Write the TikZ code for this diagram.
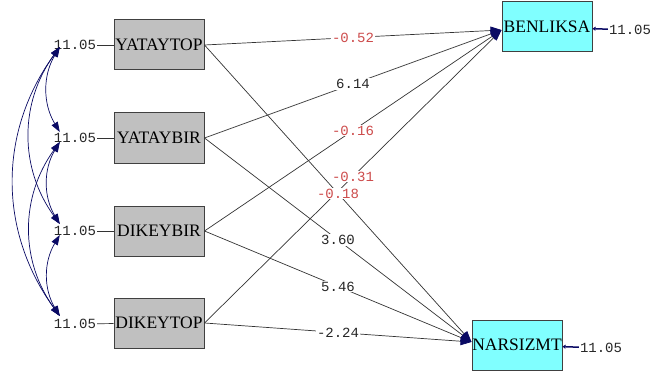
\documentclass[tikz,border=0pt]{standalone}
\usepackage{fontspec}
\setmainfont{Liberation Serif}
\newfontfamily\monofont{Liberation Mono}
\usetikzlibrary{arrows.meta}
\definecolor{boxgray}{RGB}{192,192,192}
\definecolor{boxcyan}{RGB}{128,255,255}
\definecolor{arrnavy}{RGB}{10,10,100}
\definecolor{valred}{RGB}{205,75,75}
\begin{document}
\begin{tikzpicture}
		[x=1pt, y=-1pt,
		obs/.style={draw=black!75, line width=1pt, fill=boxgray, minimum width=90pt, minimum height=50pt, inner sep=0pt, font=\fontsize{17.5}{17.5}\selectfont},
		lat/.style={obs, fill=boxcyan},
		num/.style={inner sep=1pt, text=black!85, font=\monofont\fontsize{14}{14}\selectfont},
		rednum/.style={num, text=valred, fill=white},
		blacknum/.style={num, fill=white},
		coef/.style={draw=black!80, line width=0.7pt, -{Triangle[color=arrnavy, length=11pt, width=8pt]}},
		cov/.style={draw=arrnavy, line width=0.7pt, {Triangle[length=10pt, width=7pt]}-{Triangle[length=10pt, width=7pt]}},
		res/.style={draw=arrnavy, line width=1.5pt, -{Triangle[length=3pt, width=4pt]}}]
		\useasboundingbox (0,0) rectangle (652,374);
		\node[obs] (YATAYTOP) at (159,45) {YATAYTOP};
		\node[obs] (YATAYBIR) at (159,138) {YATAYBIR};
		\node[obs] (DIKEYBIR) at (159,231) {DIKEYBIR};
		\node[obs] (DIKEYTOP) at (159,323) {DIKEYTOP};
		\node[lat] (BENLIKSA) at (547,27) {BENLIKSA};
		\node[lat] (NARSIZMT) at (517,345) {NARSIZMT};
		
		\node[num] (eYATAYTOP) at (75,45) {11.05};
		\node[num] (eYATAYBIR) at (75,138) {11.05};
		\node[num] (eDIKEYBIR) at (75,231) {11.05};
		\node[num] (eDIKEYTOP) at (75,324) {11.05};
		\node[num] (eBENLIKSA) at (630,30) {11.05};
		\node[num] (eNARSIZMT) at (601,348) {11.05};
		
		\draw[line width=0.7pt, black!80] (eYATAYTOP) -- (YATAYTOP);
		\draw[line width=0.7pt, black!80] (eYATAYBIR) -- (YATAYBIR);
		\draw[line width=0.7pt, black!80] (eDIKEYBIR) -- (DIKEYBIR);
		\draw[line width=0.7pt, black!80] (eDIKEYTOP) -- (DIKEYTOP);
		\draw[res] (eBENLIKSA) -- (BENLIKSA);
		\draw[res] (eNARSIZMT) -- (NARSIZMT);
		
		\draw[coef] (YATAYTOP.east) -- node[midway, rednum] {-0.52} ([yshift=-3pt]BENLIKSA.west);
		\draw[coef] (YATAYBIR.east) -- node[midway, blacknum] {6.14} ([yshift=-3pt]BENLIKSA.west);
		\draw[coef] (DIKEYBIR.east) -- node[midway, rednum] {-0.16} ([yshift=-3pt]BENLIKSA.west);
		\draw[coef] (DIKEYTOP.east) -- node[midway, rednum] {-0.31} ([yshift=-3pt]BENLIKSA.west);
		\draw[coef] (YATAYTOP.east) -- node[midway, rednum] {-0.18} ([yshift=3pt]NARSIZMT.west);
		\draw[coef] (YATAYBIR.east) -- node[midway, blacknum] {3.60} ([yshift=3pt]NARSIZMT.west);
		\draw[coef] (DIKEYBIR.east) -- node[midway, blacknum] {5.46} ([yshift=3pt]NARSIZMT.west);
		\draw[coef] (DIKEYTOP.east) -- node[midway, blacknum] {-2.24} ([yshift=3pt]NARSIZMT.west);
		
		\draw[cov] ([xshift=7pt, yshift=-2pt]eYATAYTOP.west) to[bend right=31] ([xshift=7pt, yshift=6pt]eYATAYBIR.west);
		\draw[cov] ([xshift=7pt, yshift=-4pt]eYATAYBIR.west) to[bend right=31] ([xshift=7pt, yshift=7pt]eDIKEYBIR.west);
		\draw[cov] ([xshift=7pt, yshift=-4pt]eDIKEYBIR.west) to[bend right=31] ([xshift=7pt, yshift=8pt]eDIKEYTOP.west);
		\draw[cov] ([xshift=7pt, yshift=-2pt]eYATAYTOP.west) to[bend right=36] ([xshift=7pt, yshift=7pt]eDIKEYBIR.west);
		\draw[cov] ([xshift=7pt, yshift=-4pt]eYATAYBIR.west) to[bend right=36] ([xshift=7pt, yshift=8pt]eDIKEYTOP.west);
		\draw[cov] ([xshift=7pt, yshift=-2pt]eYATAYTOP.west) to[bend right=36] ([xshift=7pt, yshift=8pt]eDIKEYTOP.west);
		\end{tikzpicture}
\end{document}
